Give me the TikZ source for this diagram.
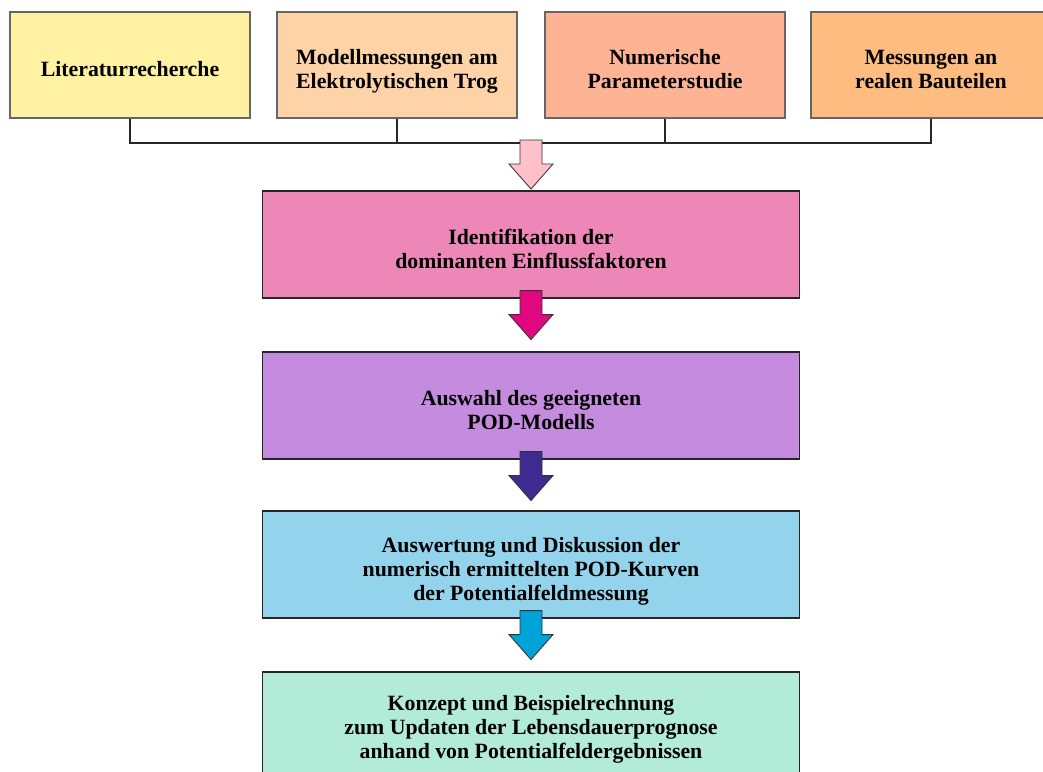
\documentclass[tikz,border=0pt]{standalone}
\usepackage{fontspec}
\setmainfont{Liberation Serif}
\usetikzlibrary{calc}

\definecolor{litgelb}{HTML}{FFF1A2}
\definecolor{modpfirsich}{HTML}{FED3A8}
\definecolor{numlachs}{HTML}{FDB394}
\definecolor{mesorange}{HTML}{FEBC80}
\definecolor{idfrosa}{HTML}{EC87B7}
\definecolor{podlila}{HTML}{C58BDE}
\definecolor{auswblau}{HTML}{94D3EC}
\definecolor{konzmint}{HTML}{B2EBD8}
\definecolor{pfeilrosa}{HTML}{FFC0CA}
\definecolor{pfeilmagenta}{HTML}{E1087F}
\definecolor{pfeilindigo}{HTML}{3F2A8F}
\definecolor{pfeilblau}{HTML}{00A3D7}

\tikzset{
  quelle/.style={draw=black!60, line width=0.8pt, minimum width=6cm, minimum height=2.65cm,
    font=\fontsize{15.5}{17}\selectfont\bfseries},
  schritt/.style={draw=black!85, line width=0.8pt, minimum width=13.4cm, minimum height=2.675cm,
    font=\fontsize{15.5}{17}\selectfont\bfseries},
  sammler/.style={draw=black!85, line width=1.4pt},
  pfeilrand/.style={draw=black!80, line width=0.6pt, line join=miter}
}

% Text etwas tiefer gesetzt, zentriert
\newcommand{\kastentext}[1]{\raisebox{-5pt}[\height][\depth]{\begin{tabular}{@{}c@{}}#1\end{tabular}}}

% Blockpfeil: #1 oberer Mittelpunkt, #2 Fuellfarbe
\newcommand{\blockpfeil}[2]{%
  \draw[pfeilrand, fill=#2] ($(#1)+(-11,0)$) -- ++(22,0) -- ++(0,24) -- ++(11,0)
    -- ++(-22,25) -- ++(-22,-25) -- ++(11,0) -- cycle;}

\begin{document}
\begin{tikzpicture}[x=0.025cm, y=-0.025cm]
  \useasboundingbox (0,0) rectangle (1043,771);

  % obere Reihe
  \node[quelle, fill=litgelb] (lit) at (130,65) {\kastentext{Literaturrecherche}};
  \node[quelle, fill=modpfirsich] (mod) at (397,65) {\kastentext{Modellmessungen am\\Elektrolytischen Trog}};
  \node[quelle, fill=numlachs] (num) at (665,65) {\kastentext{Numerische\\Parameterstudie}};
  \node[quelle, fill=mesorange] (mes) at (931,65) {\kastentext{Messungen an\\realen Bauteilen}};

  % Arbeitsschritte
  \node[schritt, fill=idfrosa] (idf) at (531,244.5) {\kastentext{Identifikation der\\dominanten Einflussfaktoren}};
  \node[schritt, fill=podlila] (pod) at (531,405.5) {\kastentext{Auswahl des geeigneten\\POD-Modells}};
  \node[schritt, fill=auswblau] (ausw) at (531,564.5) {\kastentext{Auswertung und Diskussion der\\numerisch ermittelten POD-Kurven\\der Potentialfeldmessung}};
  \node[schritt, fill=konzmint, minimum height=2.55cm] (konz) at (531,723) {\kastentext{Konzept und Beispielrechnung\\zum Updaten der Lebensdauerprognose\\anhand von Potentialfeldergebnissen}};

  % Sammelleitung
  \coordinate (bus) at (531,143);
  \draw[sammler] (lit.south) -- (lit.south |- bus) -- (mes.south |- bus) -- (mes.south);
  \draw[sammler] (mod.south) -- (mod.south |- bus);
  \draw[sammler] (num.south) -- (num.south |- bus);

  % Pfeile
  \coordinate (p1) at ($(bus)+(0,-3)$);
  \blockpfeil{p1}{pfeilrosa}
  \coordinate (p2) at ($(idf.south)+(0,-8)$);
  \blockpfeil{p2}{pfeilmagenta}
  \coordinate (p3) at ($(pod.south)+(0,-8)$);
  \blockpfeil{p3}{pfeilindigo}
  \coordinate (p4) at ($(ausw.south)+(0,-8)$);
  \blockpfeil{p4}{pfeilblau}
\end{tikzpicture}
\end{document}
